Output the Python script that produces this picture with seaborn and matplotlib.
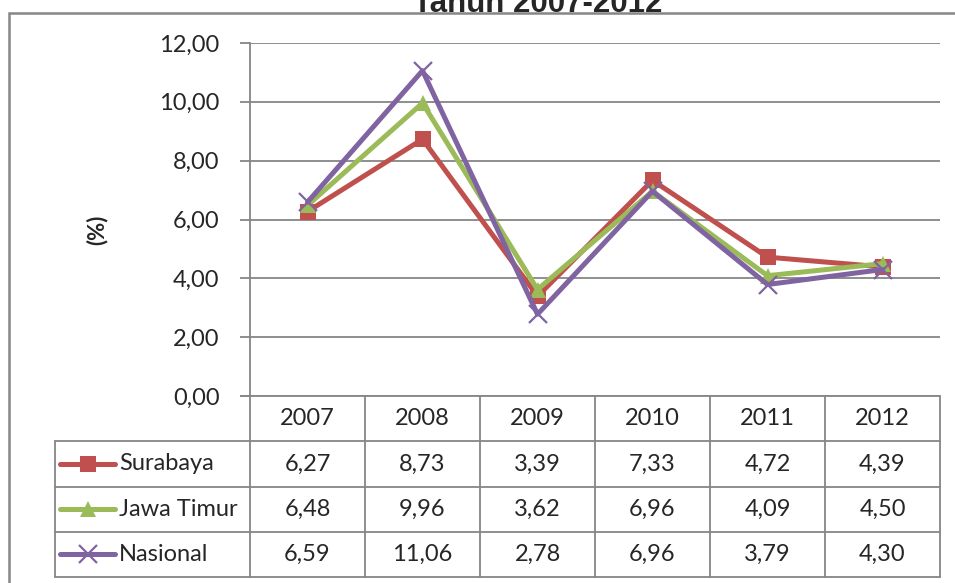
import numpy as np
import pandas as pd
import matplotlib.pyplot as plt
from matplotlib.patches import Rectangle
import seaborn as sns

# data
years = ['2007', '2008', '2009', '2010', '2011', '2012']
surabaya = [6.27, 8.73, 3.39, 7.33, 4.72, 4.39]
jawa_timur = [6.48, 9.96, 3.62, 6.96, 4.09, 4.50]
nasional = [6.59, 11.06, 2.78, 6.96, 3.79, 4.30]
series_names = ['Surabaya', 'Jawa Timur', 'Nasional']
y_ticks = [0, 2, 4, 6, 8, 10, 12]

sns.set_style('white')
plt.rcParams['font.family'] = ['Lato', 'DejaVu Sans']

colors = {'Surabaya': '#C0504D', 'Jawa Timur': '#9BBB59', 'Nasional': '#8064A2'}
markers = {'Surabaya': 's', 'Jawa Timur': '^', 'Nasional': 'x'}
msizes = {'Surabaya': 11, 'Jawa Timur': 11, 'Nasional': 13}
grey = '#868686'
fsize = 17

W, H = 955, 583
fig = plt.figure(figsize=(W / 100, H / 100), dpi=100)


def fx(px):
    return px / W


def fy(py):
    return 1 - py / H


# outer chart border (cut by the image on the right and bottom)
fig.patches.append(Rectangle((fx(9), fy(700)), fx(1000), fy(13) - fy(700),
                             transform=fig.transFigure, fill=False,
                             edgecolor=grey, linewidth=1.8))
# title sits above the border and is cut off in the original too
fig.text(fx(538), fy(12), 'Tahun 2007-2012', ha='center', va='baseline',
         fontsize=22.5, fontweight='bold', family='Liberation Sans')

# main plot area
ax = fig.add_axes([fx(250), fy(396), fx(940) - fx(250), fy(43) - fy(396)])
df = pd.DataFrame({'x': np.arange(len(years)), 'Surabaya': surabaya,
                   'Jawa Timur': jawa_timur, 'Nasional': nasional})
for name in series_names:
    sns.lineplot(data=df, x='x', y=name, ax=ax, color=colors[name],
                 linewidth=3.6, marker=markers[name], markersize=msizes[name],
                 markeredgewidth=1.6 if name == 'Nasional' else 0,
                 markeredgecolor=colors[name], zorder=3, label=None)
ax.set_xlim(-0.5, len(years) - 0.5)
ax.set_ylim(0, 12)
ax.set_yticks(y_ticks)
ax.set_yticklabels([f'{v:.2f}'.replace('.', ',') for v in y_ticks], fontsize=fsize)
ax.set_xticks([])
ax.set_xlabel('')
ax.set_ylabel('')
for v in y_ticks:
    ax.axhline(v, color=grey, linewidth=1.3, zorder=1)
for s in ['top', 'right', 'bottom']:
    ax.spines[s].set_visible(False)
ax.spines['left'].set_color(grey)
ax.spines['left'].set_linewidth(1.3)
ax.tick_params(axis='y', length=7, width=1.3, color=grey, pad=15, left=True)
ax.patch.set_alpha(0)
fig.text(fx(97), fy(230), '(%)', rotation=90, ha='center', va='center',
         fontsize=16, fontweight='bold')

# data table below the plot
tab = fig.add_axes([fx(55), fy(577), fx(940) - fx(55), fy(396) - fy(577)])
x_left = -0.5 - 195 / 115
tab.set_xlim(x_left, len(years) - 0.5)
tab.set_ylim(4, 0)
tab.axis('off')
lw = 1.3
# horizontal lines
tab.plot([-0.5 - 9 / 115, len(years) - 0.5], [0, 0], color=grey, lw=lw, clip_on=False)
for r in range(1, 5):
    tab.plot([x_left, len(years) - 0.5], [r, r], color=grey, lw=lw, clip_on=False)
# vertical lines
tab.plot([x_left, x_left], [1, 4], color=grey, lw=lw, clip_on=False)
for c in range(len(years) + 1):
    tab.plot([c - 0.5, c - 0.5], [0, 4], color=grey, lw=lw, clip_on=False)

for i, yr in enumerate(years):
    tab.text(i, 0.5, yr, ha='center', va='center', fontsize=fsize)

for r, name in enumerate(series_names, start=1):
    vals = df[name].tolist()
    for i, v in enumerate(vals):
        tab.text(i, r + 0.5, f'{v:.2f}'.replace('.', ','), ha='center',
                 va='center', fontsize=fsize)
    k0 = x_left + 5 / 115
    k1 = x_left + 60 / 115
    tab.plot([k0, k1], [r + 0.5, r + 0.5], color=colors[name], lw=3.6,
             solid_capstyle='round', clip_on=False)
    tab.plot([(k0 + k1) / 2], [r + 0.5], marker=markers[name],
             markersize=msizes[name], color=colors[name],
             markeredgewidth=1.6 if name == 'Nasional' else 0,
             markeredgecolor=colors[name], clip_on=False)
    tab.text(x_left + 64 / 115, r + 0.5, name, ha='left', va='center', fontsize=fsize)

fig.savefig('out.png', dpi=100)
